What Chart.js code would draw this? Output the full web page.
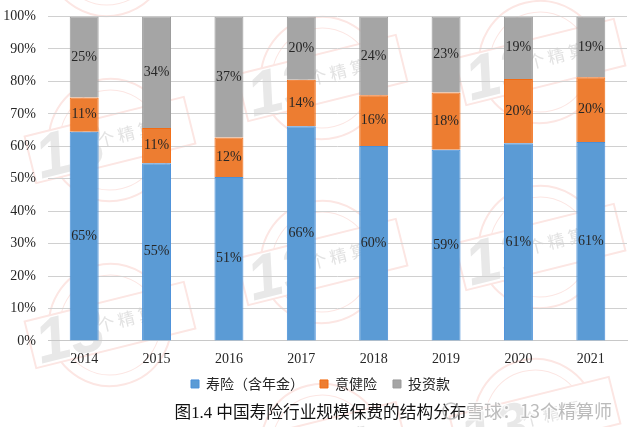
<!DOCTYPE html>
<html>
<head>
<meta charset="utf-8">
<script src="https://cdn.jsdelivr.net/npm/chart.js@4"></script>
<style>
  html, body { margin: 0; padding: 0; background: #fff; }
  canvas { display: block; }
</style>
</head>
<body>
<canvas id="premium" width="632" height="427"></canvas>
<script>
const years = ["2014", "2015", "2016", "2017", "2018", "2019", "2020", "2021"];
const seriesNames = ["寿险（含年金）", "意健险", "投资款"];
const lifeShare = [64.5, 54.8, 50.5, 66.2, 60.1, 58.9, 60.9, 61.3];
const healthShare = [10.5, 10.8, 12.2, 14.3, 15.6, 17.7, 19.8, 20.0];
const investShare = [25.0, 34.4, 37.3, 19.5, 24.3, 23.4, 19.3, 18.7];
const titleText = "图1.4 中国寿险行业规模保费的结构分布";
const watermarkText = "雪球：13个精算师";

const serif = '"Liberation Serif", "Noto Sans CJK SC"';

// faint stamps behind the chart
const stampCentres = [[107, -45], [110, 140], [322, 78], [540, 62], [110, 325], [322, 262], [540, 247], [322, 445], [535, 420]];

function drawStamp(ctx, x, y) {
    ctx.save();
    ctx.translate(x, y);
    ctx.rotate(-14 * Math.PI / 180);
    ctx.strokeStyle = "#fce6e3";
    ctx.lineWidth = 2;
    ctx.beginPath();
    ctx.arc(0, 0, 61, 0, Math.PI * 2);
    ctx.stroke();
    ctx.lineWidth = 1;
    ctx.beginPath();
    ctx.arc(0, 0, 50, 0, Math.PI * 2);
    ctx.stroke();
    ctx.fillStyle = "#fff";
    ctx.fillRect(-82, -24, 164, 48);
    ctx.lineWidth = 2;
    ctx.strokeRect(-82, -24, 164, 48);
    ctx.fillStyle = "#e8e8e8";
    ctx.textAlign = "left";
    ctx.textBaseline = "middle";
    ctx.font = 'italic bold 62px "Liberation Sans"';
    ctx.fillText("13", -76, 4);
    ctx.fillStyle = "#e2e2e2";
    ctx.font = '17px "Noto Sans CJK SC"';
    ctx.fillText("个 精 算", -12, -2);
    ctx.restore();
}

const stampPlugin = {
    id: "stamps",
    beforeDraw(chart) {
        stampCentres.forEach(c => drawStamp(chart.ctx, c[0], c[1]));
    }
};

// tick labels sit outside their scale boxes here, so open up the clip areas
const labelRoomPlugin = {
    id: "labelRoom",
    afterLayout(chart) {
        chart.scales.y.left = 0;
        chart.scales.x.bottom = chart.height;
    }
};

const valueLabelPlugin = {
    id: "valueLabels",
    afterDatasetsDraw(chart) {
        const ctx = chart.ctx;
        ctx.save();
        ctx.font = "14px " + serif;
        ctx.fillStyle = "#262626";
        ctx.textAlign = "center";
        ctx.textBaseline = "middle";
        chart.data.datasets.forEach((ds, i) => {
            chart.getDatasetMeta(i).data.forEach((bar, j) => {
                const p = bar.getCenterPoint();
                ctx.fillText(Math.round(ds.data[j]) + "%", p.x, p.y);
            });
        });
        ctx.restore();
    }
};

const watermarkPlugin = {
    id: "watermark",
    afterDraw(chart) {
        const ctx = chart.ctx;
        ctx.save();
        ctx.strokeStyle = "rgba(180,180,180,0.8)";
        ctx.lineWidth = 1.5;
        ctx.beginPath();
        ctx.arc(451, 411, 8, 0, Math.PI * 2);
        ctx.stroke();
        ctx.font = '18px "Noto Sans CJK SC"';
        ctx.textAlign = "left";
        ctx.textBaseline = "middle";
        ctx.lineWidth = 3;
        ctx.strokeStyle = "rgba(255,255,255,0.7)";
        ctx.strokeText(watermarkText, 466, 411);
        ctx.fillStyle = "rgba(175,175,175,0.85)";
        ctx.fillText(watermarkText, 466, 411);
        ctx.restore();
    }
};

new Chart("premium", {
    type: "bar",
    data: {
        labels: years,
        datasets: [
            { label: seriesNames[0], data: lifeShare, backgroundColor: "#5b9bd5", borderColor: "#4a90d9", borderWidth: 1 },
            { label: seriesNames[1], data: healthShare, backgroundColor: "#ed7d31", borderColor: "#f26b12", borderWidth: 1 },
            { label: seriesNames[2], data: investShare, backgroundColor: "#a5a5a5", borderColor: "#9a9a9a", borderWidth: 1 }
        ]
    },
    options: {
        responsive: false,
        animation: false,
        layout: { padding: { left: 14, right: 5, top: 16.5, bottom: 3 } },
        datasets: { bar: { categoryPercentage: 0.4, barPercentage: 1 } },
        scales: {
            x: {
                stacked: true,
                afterFit(scale) { scale.height = 20; },
                grid: { display: false, drawTicks: false },
                border: { color: "#c8c8c8" },
                ticks: { color: "#262626", font: { family: serif, size: 14 }, padding: 10, maxRotation: 0 }
            },
            y: {
                stacked: true,
                min: 0,
                max: 100,
                afterFit(scale) { scale.width = 34; },
                grid: { color: "#d0d0d0", drawTicks: true, tickLength: 9, tickColor: "transparent" },
                border: { display: false },
                ticks: {
                    stepSize: 10,
                    padding: 3,
                    color: "#262626",
                    font: { family: serif, size: 14 },
                    callback: v => v + "%"
                }
            }
        },
        plugins: {
            tooltip: { enabled: false },
            legend: {
                position: "bottom",
                labels: {
                    boxWidth: 8,
                    boxHeight: 8,
                    padding: 16,
                    color: "#262626",
                    font: { family: '"Noto Sans CJK SC"', size: 14 }
                }
            },
            title: {
                display: true,
                text: titleText,
                position: "bottom",
                color: "#111",
                font: { family: serif, size: 16.7, weight: "normal" },
                padding: { top: 3, bottom: 0 }
            }
        }
    },
    plugins: [stampPlugin, labelRoomPlugin, valueLabelPlugin, watermarkPlugin]
});
</script>
</body>
</html>
